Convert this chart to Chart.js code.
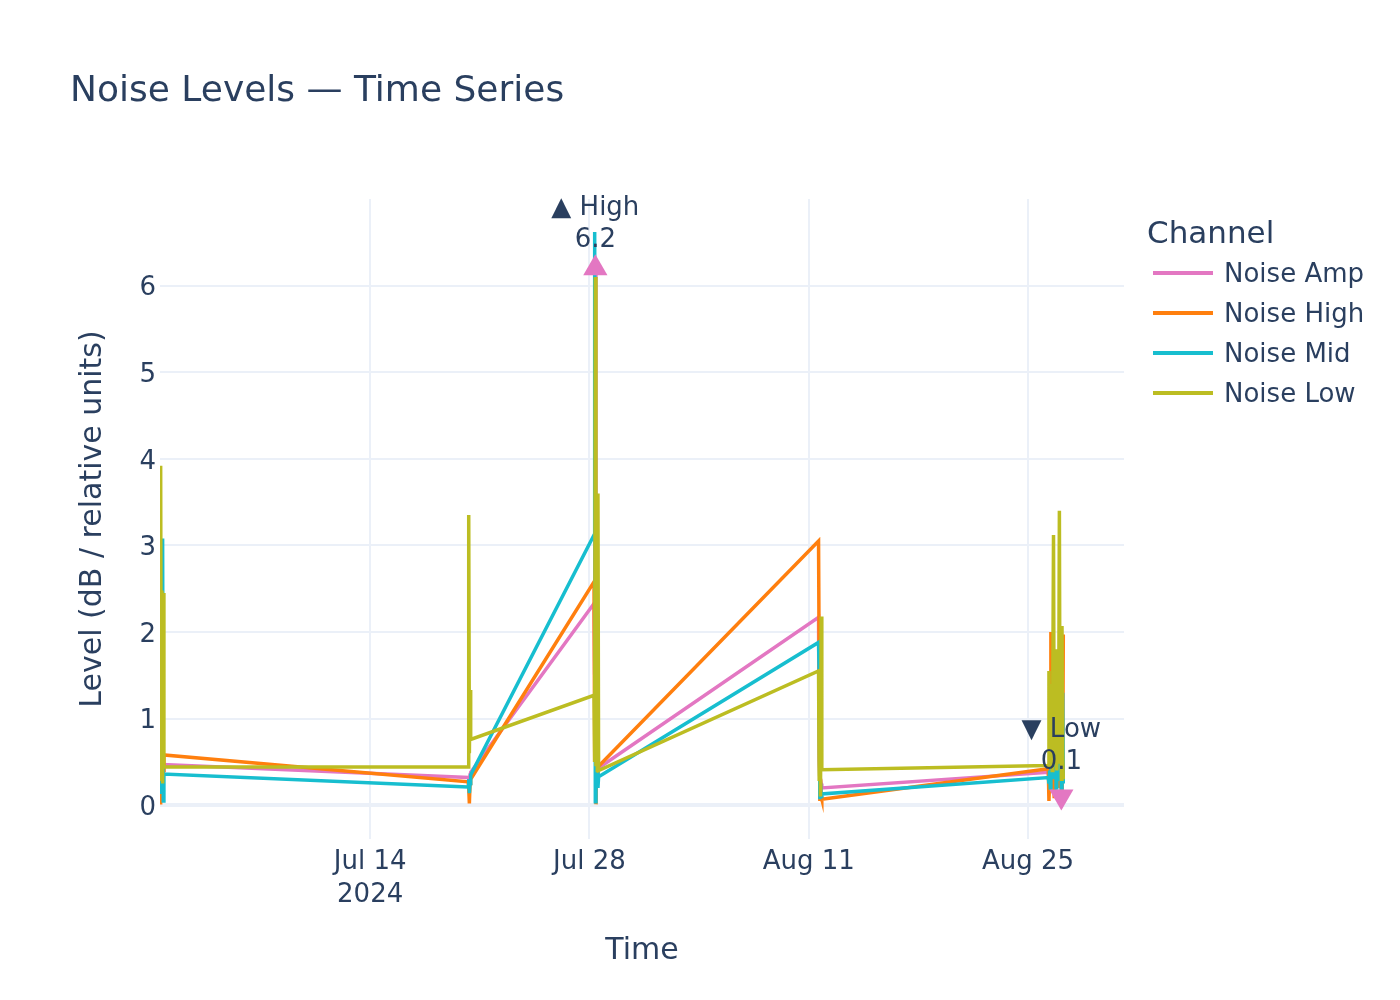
<!DOCTYPE html>
<html>
<head>
<meta charset="utf-8">
<title>Noise Levels — Time Series</title>
<script src="https://cdn.jsdelivr.net/npm/chart.js@4.4.1/dist/chart.umd.min.js"></script>
<style>
  html, body { margin: 0; padding: 0; background: #ffffff; }
  #wrap { width: 1400px; height: 1000px; }
</style>
</head>
<body>
<div id="wrap"><canvas id="noiseChart" width="1400" height="1000"></canvas></div>
<script>
// noise levels - hourly samples, recorded in bursts

const chartTitle = 'Noise Levels — Time Series';
const legendTitle = 'Channel';
const seriesNames = ['Noise Amp', 'Noise High', 'Noise Mid', 'Noise Low'];

const times = [
    // Jun 30
    '2024-06-30 14:00', '2024-06-30 15:00', '2024-06-30 16:00', '2024-06-30 17:00',
    '2024-06-30 18:00', '2024-06-30 19:00', '2024-06-30 20:00',
    // Jul 20
    '2024-07-20 06:00', '2024-07-20 07:00', '2024-07-20 08:00', '2024-07-20 09:00', '2024-07-20 10:00',
    // Jul 28
    '2024-07-28 07:00', '2024-07-28 08:00', '2024-07-28 09:00', '2024-07-28 10:00',
    '2024-07-28 11:00', '2024-07-28 12:00', '2024-07-28 13:00', '2024-07-28 14:00',
    // Aug 11
    '2024-08-11 15:00', '2024-08-11 16:00', '2024-08-11 17:00', '2024-08-11 18:00',
    '2024-08-11 19:00', '2024-08-11 20:00',
    // Aug 26-27
    '2024-08-26 07:00', '2024-08-26 08:00', '2024-08-26 09:00', '2024-08-26 10:00',
    '2024-08-26 11:00', '2024-08-26 12:00', '2024-08-26 13:00', '2024-08-26 14:00',
    '2024-08-26 15:00', '2024-08-26 16:00', '2024-08-26 17:00', '2024-08-26 18:00',
    '2024-08-26 19:00', '2024-08-26 20:00', '2024-08-26 21:00', '2024-08-26 22:00',
    '2024-08-26 23:00', '2024-08-27 00:00', '2024-08-27 01:00', '2024-08-27 02:00',
    '2024-08-27 03:00', '2024-08-27 04:00', '2024-08-27 05:00', '2024-08-27 06:00'
];

const noiseAmp = [
    0.30, 0.40, 0.35, 0.45, 0.30, 0.40, 0.47,
    0.32, 0.30, 0.25, 0.35, 0.38,
    2.33, 1.50, 6.20, 0.50, 0.30, 0.60, 0.35, 0.43,
    2.17, 0.50, 0.30, 0.18, 0.25, 0.20,
    0.38, 0.30, 0.50, 0.20, 0.60, 0.30, 0.80, 0.40, 0.20, 0.50, 0.30, 0.60,
    0.40, 0.30, 0.50, 0.70, 0.30, 0.60, 0.40, 0.50, 0.10, 0.40, 0.30, 0.50
];
const noiseHigh = [
    0.03, 0.20, 0.30, 0.25, 0.15, 0.40, 0.58,
    0.27, 0.20, 0.02, 0.25, 0.30,
    2.58, 0.50, 1.50, 0.01, 0.60, 0.30, 0.50, 0.45,
    3.05, 1.60, 0.05, 0.30, 0.10, 0.07,
    0.42, 0.05, 0.30, 0.80, 2.00, 0.30, 0.60, 0.20, 0.50, 0.10, 0.60, 0.30,
    0.40, 0.20, 0.70, 0.40, 0.90, 0.20, 0.50, 0.30, 0.20, 0.60, 0.30, 1.97
];
const noiseMid = [
    0.20, 0.30, 0.15, 0.25, 3.08, 0.05, 0.36,
    0.21, 0.30, 0.14, 0.25, 0.35,
    3.12, 6.62, 0.04, 0.50, 0.30, 0.60, 0.20, 0.33,
    1.88, 1.50, 0.07, 0.26, 0.10, 0.13,
    0.32, 0.25, 0.40, 0.20, 0.60, 0.30, 0.50, 0.90, 0.30, 0.80, 0.40, 1.20,
    0.20, 0.60, 0.30, 1.00, 0.40, 0.70, 0.30, 1.60, 0.20, 0.50, 1.30, 0.25
];
const noiseLow = [
    0.35, 3.92, 0.30, 2.48, 0.25, 2.45, 0.44,
    0.44, 3.35, 0.60, 1.33, 0.76,
    1.27, 0.50, 6.10, 0.45, 1.50, 0.40, 3.60, 0.40,
    1.55, 0.30, 0.80, 0.10, 2.18, 0.41,
    0.46, 1.55, 0.50, 1.40, 0.60, 1.20, 0.40, 1.50, 3.12, 0.50, 1.30, 0.60,
    1.80, 0.40, 1.50, 0.70, 1.10, 3.40, 0.50, 1.60, 0.30, 2.07, 0.60, 0.30
];

const xTickDates = ['2024-07-14', '2024-07-28', '2024-08-11', '2024-08-25'];
const yTicks = [0, 1, 2, 3, 4, 5, 6];
const xRange = ['2024-06-30 14:00', '2024-08-31 03:00'];
const yRange = [-0.39, 7.0];
const markerLabels = ['▲ High', '▼ Low'];

const colors = ['#e377c2', '#ff7f0e', '#17becf', '#bcbd22'];
const TEXT_COLOR = '#2a3f5f';
const GRID_COLOR = '#ebf0f8';
const FONT = '"DejaVu Sans", Verdana, sans-serif';
const MONTHS = ['Jan', 'Feb', 'Mar', 'Apr', 'May', 'Jun', 'Jul', 'Aug', 'Sep', 'Oct', 'Nov', 'Dec'];

function toMs(s) {
    const [d, t] = s.split(' ');
    const [y, m, day] = d.split('-').map(Number);
    const [hh, mm] = (t || '00:00').split(':').map(Number);
    return Date.UTC(y, m - 1, day, hh, mm);
}

const xs = times.map(toMs);
const seriesValues = [noiseAmp, noiseHigh, noiseMid, noiseLow];

// max / min markers on Noise Amp
const maxIdx = noiseAmp.indexOf(Math.max(...noiseAmp));
const minIdx = noiseAmp.indexOf(Math.min(...noiseAmp));

const datasets = seriesNames.map((name, i) => ({
    label: name,
    data: xs.map((x, j) => ({ x: x, y: seriesValues[i][j] })),
    borderColor: colors[i],
    backgroundColor: colors[i],
    borderWidth: 3.5,
    pointRadius: 0,
    tension: 0,
    order: 5 - i
}));

datasets.push({
    label: 'extremes',
    data: [
        { x: xs[maxIdx], y: noiseAmp[maxIdx] },
        { x: xs[minIdx], y: noiseAmp[minIdx] }
    ],
    showLine: false,
    pointStyle: 'triangle',
    pointRotation: [0, 180],
    pointRadius: 14,
    pointBackgroundColor: colors[0],
    pointBorderColor: colors[0],
    pointBorderWidth: 0,
    order: 0
});

const overlayPlugin = {
    id: 'overlay',
    afterDraw(chart) {
        const ctx = chart.ctx;
        ctx.save();
        ctx.fillStyle = TEXT_COLOR;
        ctx.textBaseline = 'middle';

        // title
        ctx.textAlign = 'left';
        ctx.font = '36px ' + FONT;
        ctx.fillText(chartTitle, 70, 92);

        // legend
        ctx.font = '31px ' + FONT;
        ctx.fillText(legendTitle, 1147, 235);
        ctx.font = '26px ' + FONT;
        seriesNames.forEach((name, i) => {
            const y = 273 + i * 40;
            ctx.strokeStyle = colors[i];
            ctx.lineWidth = 4;
            ctx.beginPath();
            ctx.moveTo(1153, y);
            ctx.lineTo(1213, y);
            ctx.stroke();
            ctx.fillText(name, 1224, y + 2);
        });

        // marker annotations
        ctx.textAlign = 'center';
        const meta = chart.getDatasetMeta(4);
        const shifts = [[-60, -28], [-66, -34]];
        meta.data.forEach((pt, i) => {
            const val = datasets[4].data[i].y;
            ctx.fillText(markerLabels[i], pt.x, pt.y + shifts[i][0]);
            ctx.fillText(val.toFixed(1), pt.x, pt.y + shifts[i][1]);
        });
        ctx.restore();
    }
};

const ctx = document.getElementById('noiseChart').getContext('2d');
const noiseChart = new Chart(ctx, {
    type: 'line',
    data: { datasets: datasets },
    plugins: [overlayPlugin],
    options: {
        responsive: false,
        animation: false,
        events: [],
        layout: { padding: { left: 70, right: 276, top: 199, bottom: 31 } },
        plugins: {
            legend: { display: false },
            title: { display: false },
            tooltip: { enabled: false }
        },
        scales: {
            x: {
                type: 'linear',
                min: toMs(xRange[0]),
                max: toMs(xRange[1]),
                afterBuildTicks: (scale) => {
                    scale.ticks = xTickDates.map(d => ({ value: toMs(d) }));
                },
                afterFit: (scale) => { scale.height = 130; },
                border: { display: false },
                grid: { color: GRID_COLOR, lineWidth: 2, drawTicks: false },
                ticks: {
                    color: TEXT_COLOR,
                    font: { family: FONT, size: 26, lineHeight: 1.3 },
                    padding: 6,
                    maxRotation: 0,
                    autoSkip: false,
                    callback: (value, index) => {
                        const d = new Date(value);
                        const label = MONTHS[d.getUTCMonth()] + ' ' + d.getUTCDate();
                        return index === 0 ? [label, String(d.getUTCFullYear())] : label;
                    }
                },
                title: {
                    display: true,
                    text: 'Time',
                    color: TEXT_COLOR,
                    font: { family: FONT, size: 30 },
                    padding: { bottom: 0 }
                }
            },
            y: {
                min: yRange[0],
                max: yRange[1],
                afterBuildTicks: (scale) => {
                    scale.ticks = yTicks.map(v => ({ value: v }));
                },
                afterFit: (scale) => { scale.width = 90; },
                border: { display: false },
                grid: {
                    color: GRID_COLOR,
                    lineWidth: (c) => (c.tick && c.tick.value === 0 ? 4 : 2),
                    drawTicks: false
                },
                ticks: {
                    color: TEXT_COLOR,
                    font: { family: FONT, size: 26 },
                    padding: 4,
                    labelOffset: 3
                },
                title: {
                    display: true,
                    text: 'Level (dB / relative units)',
                    color: TEXT_COLOR,
                    font: { family: FONT, size: 30 },
                    padding: { top: 5 }
                }
            }
        }
    }
});
</script>
</body>
</html>
